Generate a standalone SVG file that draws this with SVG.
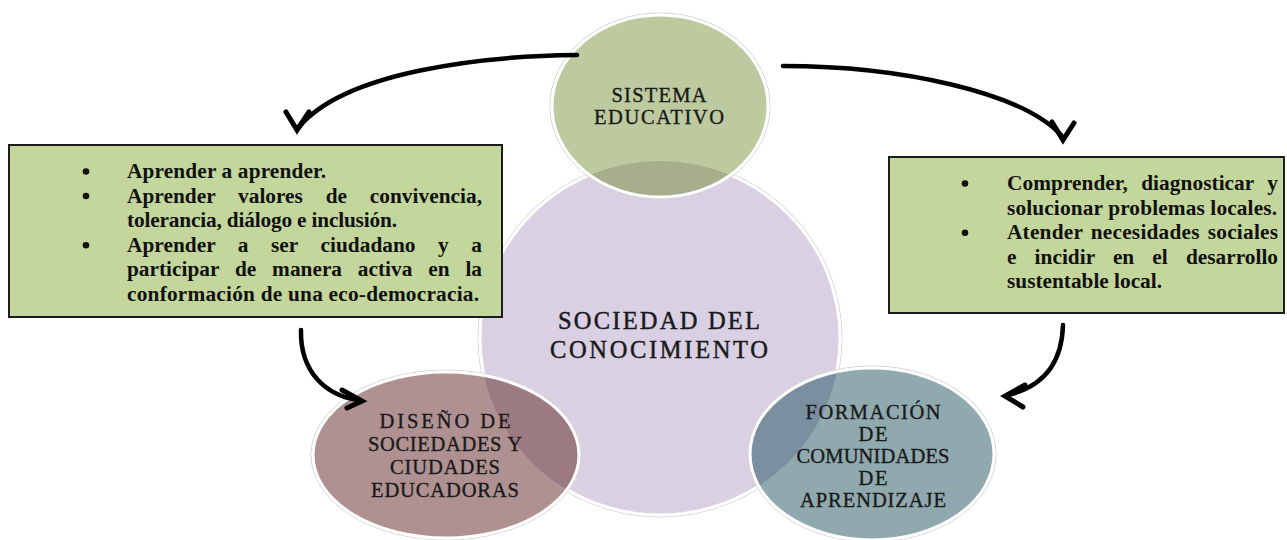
<svg xmlns="http://www.w3.org/2000/svg" width="1287" height="540" viewBox="0 0 1287 540">
<style>
.box{fill:#c3d69b;stroke:#1c1c1c;stroke-width:2}
.bt{font-family:"Liberation Serif","Times New Roman",serif;font-weight:bold;font-size:21.3px;fill:#111}
.nt{font-family:"Liberation Serif","Times New Roman",serif;font-size:20.5px;fill:#1a1a1a;stroke:#1a1a1a;stroke-width:0.35;text-anchor:middle}
.ct{font-family:"Liberation Serif","Times New Roman",serif;font-size:24.5px;fill:#1a1a1a;stroke:#1a1a1a;stroke-width:0.45;text-anchor:middle}
.halo{fill:none;stroke:#d4d4d4;stroke-width:1}
.rim{fill:none;stroke:#ffffff;stroke-width:3}
.arc{fill:none;stroke:#000;stroke-width:4.5;stroke-linecap:round}
.chev{fill:none;stroke:#000;stroke-width:5;stroke-linecap:round;stroke-linejoin:miter}
.dot{fill:#111}
</style>
<defs>
<clipPath id="clipBig"><ellipse cx="660" cy="338" rx="180" ry="177"/></clipPath>
</defs>
<rect width="1287" height="540" fill="#ffffff"/>

<g id="node-sociedad">
<ellipse class="halo" cx="660" cy="338" rx="182" ry="179"/>
<ellipse cx="660" cy="338" rx="180" ry="177" fill="#d9d0e3"/>
<ellipse class="rim" cx="660" cy="338" rx="180" ry="177"/>
<text class="ct" x="659" y="329" textLength="202" lengthAdjust="spacing">SOCIEDAD DEL</text>
<text class="ct" x="659" y="358" textLength="218" lengthAdjust="spacing">CONOCIMIENTO</text>
</g>

<g id="node-sistema">
<ellipse class="halo" cx="660" cy="106" rx="110" ry="93"/>
<ellipse cx="660" cy="106" rx="108" ry="91" fill="#bdc99e"/>
<ellipse cx="660" cy="106" rx="108" ry="91" fill="#a6ae8c" clip-path="url(#clipBig)"/>
<ellipse class="rim" cx="660" cy="106" rx="108" ry="91"/>
<text class="nt" x="659" y="102" textLength="95" lengthAdjust="spacing">SISTEMA</text>
<text class="nt" x="659" y="124" textLength="130" lengthAdjust="spacing">EDUCATIVO</text>
</g>

<g id="node-diseno">
<ellipse class="halo" cx="446" cy="455" rx="135" ry="85"/>
<ellipse cx="446" cy="455" rx="133" ry="83" fill="#b09191"/>
<ellipse cx="446" cy="455" rx="133" ry="83" fill="#9c7a82" clip-path="url(#clipBig)"/>
<ellipse class="rim" cx="446" cy="455" rx="133" ry="83"/>
<text class="nt" x="445" y="428" textLength="131" lengthAdjust="spacing">DISEÑO DE</text>
<text class="nt" x="445" y="451" textLength="154" lengthAdjust="spacing">SOCIEDADES Y</text>
<text class="nt" x="445" y="474" textLength="110" lengthAdjust="spacing">CIUDADES</text>
<text class="nt" x="445" y="497" textLength="148" lengthAdjust="spacing">EDUCADORAS</text>
</g>

<g id="node-formacion">
<ellipse class="halo" cx="872" cy="454" rx="124" ry="88"/>
<ellipse cx="872" cy="454" rx="122" ry="86" fill="#8fa9ae"/>
<ellipse cx="872" cy="454" rx="122" ry="86" fill="#7a8fa0" clip-path="url(#clipBig)"/>
<ellipse class="rim" cx="872" cy="454" rx="122" ry="86"/>
<text class="nt" x="873" y="419" textLength="135" lengthAdjust="spacing">FORMACIÓN</text>
<text class="nt" x="873" y="441" textLength="29" lengthAdjust="spacing">DE</text>
<text class="nt" x="873" y="463" textLength="153" lengthAdjust="spacing">COMUNIDADES</text>
<text class="nt" x="873" y="485" textLength="29" lengthAdjust="spacing">DE</text>
<text class="nt" x="873" y="507" textLength="146" lengthAdjust="spacing">APRENDIZAJE</text>
</g>

<g id="box-left">
<rect class="box" x="9" y="145" width="493" height="172"/>
<circle class="dot" cx="86" cy="171.5" r="3.3"/>
<circle class="dot" cx="86" cy="196" r="3.3"/>
<circle class="dot" cx="86" cy="245.3" r="3.3"/>
<text class="bt" x="127" y="178" textLength="199" lengthAdjust="spacing">Aprender a aprender.</text>
<text class="bt" x="127" y="202.6" word-spacing="17.4" textLength="355" lengthAdjust="spacing">Aprender valores de convivencia,</text>
<text class="bt" x="127" y="227.2" textLength="270" lengthAdjust="spacing">tolerancia, diálogo e inclusión.</text>
<text class="bt" x="127" y="251.8" word-spacing="17.2" textLength="355" lengthAdjust="spacing">Aprender a ser ciudadano y a</text>
<text class="bt" x="127" y="276.4" word-spacing="10.5" textLength="355" lengthAdjust="spacing">participar de manera activa en la</text>
<text class="bt" x="127" y="301" textLength="352" lengthAdjust="spacing">conformación de una eco-democracia.</text>
</g>

<g id="box-right">
<rect class="box" x="889" y="157" width="395" height="156"/>
<circle class="dot" cx="965" cy="183.5" r="3.3"/>
<circle class="dot" cx="965" cy="232.7" r="3.3"/>
<text class="bt" x="1007" y="190" word-spacing="8" textLength="271" lengthAdjust="spacing">Comprender, diagnosticar y</text>
<text class="bt" x="1007" y="214.6" textLength="270" lengthAdjust="spacing">solucionar problemas locales.</text>
<text class="bt" x="1007" y="239.2" word-spacing="2.5" textLength="271" lengthAdjust="spacing">Atender necesidades sociales</text>
<text class="bt" x="1007" y="263.8" word-spacing="12.8" textLength="271" lengthAdjust="spacing">e incidir en el desarrollo</text>
<text class="bt" x="1007" y="288.4">sustentable local.</text>
</g>

<g id="connectors">
<path class="arc" d="M577,55 C480,56 345,72 299,127"/>
<polyline class="chev" points="286,112 297,130 309,112"/>
<path class="arc" d="M783,66 C900,66 1022,92 1062,136"/>
<polyline class="chev" points="1052,122 1063,140 1074,123"/>
<path class="arc" d="M301,330 C300,372 326,396 359,400"/>
<polyline class="chev" points="342,390 362,401 347,408"/>
<path class="arc" d="M1063,325 C1062,362 1045,386 1008,395"/>
<polyline class="chev" points="1025,385 1005,396 1023,407"/>
</g>
</svg>
